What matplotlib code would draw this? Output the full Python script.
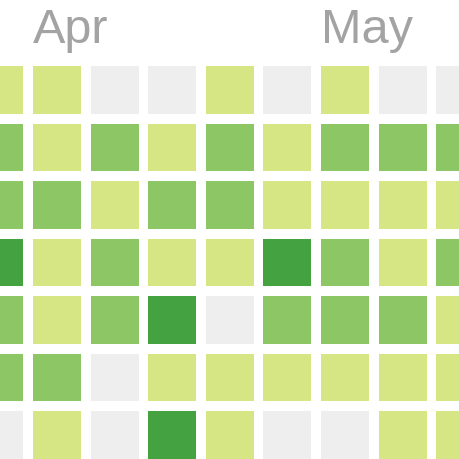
import matplotlib
matplotlib.use("Agg")
import matplotlib.pyplot as plt
from matplotlib.patches import Rectangle

# contribution levels: rows = weekdays (top to bottom), columns = weeks (left to right)
levels = [
    [1, 1, 0, 0, 1, 0, 1, 0, 0],
    [2, 1, 2, 1, 2, 1, 2, 2, 2],
    [2, 2, 1, 2, 2, 1, 1, 1, 1],
    [3, 1, 2, 1, 1, 3, 2, 1, 2],
    [2, 1, 2, 3, 0, 2, 2, 2, 1],
    [2, 2, 0, 1, 1, 1, 1, 1, 1],
    [0, 1, 0, 3, 1, 0, 0, 1, 1],
]
month_labels = ["Apr", "May"]
month_cols = [1, 6]
palette = ["#eeeeee", "#d6e685", "#8cc665", "#44a340", "#1e6823"]

fig = plt.figure(figsize=(4.6, 4.6), dpi=100)
ax = fig.add_axes([0, 0, 1, 1])
ax.set_axis_off()

cell = 48 / 57.6
for r, row in enumerate(levels):
    for c, v in enumerate(row):
        ax.add_patch(Rectangle((c, r), cell, cell, facecolor=palette[v],
                               edgecolor="none"))

for lab, col in zip(month_labels, month_cols):
    ax.text(col, -0.42, lab, fontsize=35, color="#a3a3a3",
            family="Liberation Sans", ha="left", va="baseline")

ax.set_xlim(1 - 33 / 57.6, 1 + 427 / 57.6)
ax.set_ylim((460 - 67) / 57.5, -67 / 57.5)

fig.savefig("out.png", dpi=100, facecolor="white")
